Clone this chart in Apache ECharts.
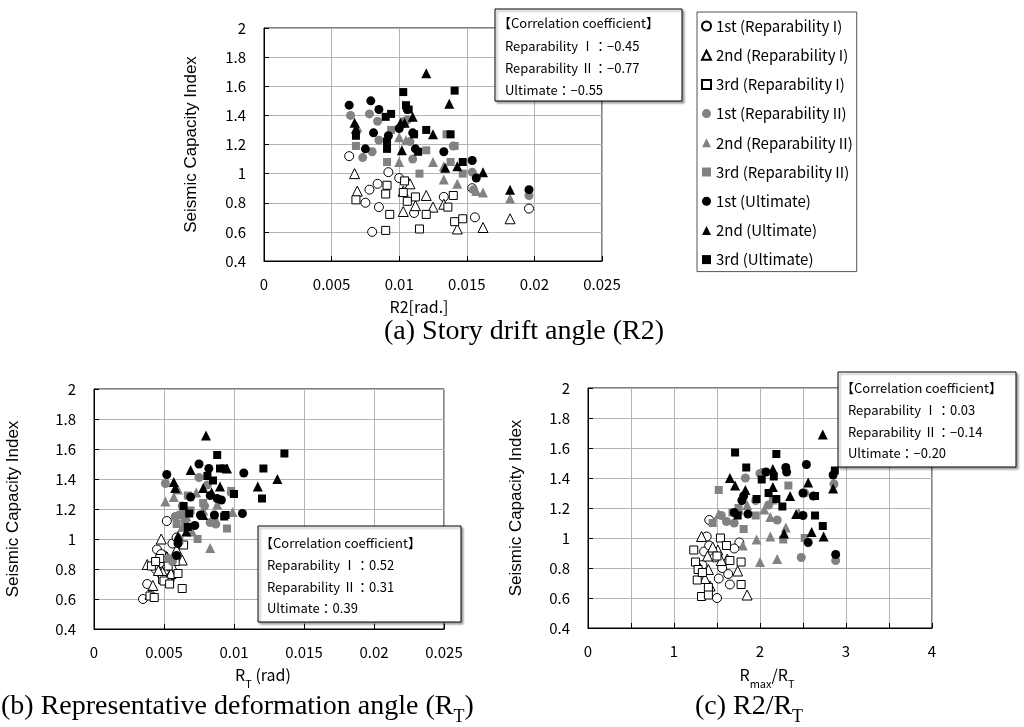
<!DOCTYPE html>
<html><head><meta charset="utf-8">
<script src="https://cdn.jsdelivr.net/npm/echarts@6/dist/echarts.min.js"></script>
<style>html,body{margin:0;padding:0;background:#fff}#c{width:1024px;height:727px}</style>
</head><body><div id="c"></div>
<script>
const seriesNames = ['1st (Reparability I)','2nd (Reparability I)','3rd (Reparability I)','1st (Reparability II)','2nd (Reparability II)','3rd (Reparability II)','1st (Ultimate)','2nd (Ultimate)','3rd (Ultimate)'];
const xTicksA = [0,0.005,0.01,0.015,0.02,0.025];
const xTicksC = [0,1,2,3,4];
const yTicks = [0.4,0.6,0.8,1,1.2,1.4,1.6,1.8,2];
const corrA = ['−0.45','−0.77','−0.55'];
const corrB = ['0.52','0.31','0.39'];
const corrC = ['0.03','−0.14','−0.20'];

// (a) R2
const r2_r1_1 = [[0.0063,1.12],[0.0092,1.01],[0.0100,0.97],[0.0084,0.93],[0.0078,0.89],[0.0075,0.80],[0.0085,0.77],[0.0111,0.73],[0.0080,0.60],[0.0133,0.84],[0.0154,0.90],[0.0196,0.76],[0.0156,0.70]];
const r2_r1_2 = [[0.0067,1.00],[0.0069,0.88],[0.0103,0.88],[0.0108,0.93],[0.0120,0.85],[0.0125,0.77],[0.0103,0.74],[0.0112,0.78],[0.0133,0.79],[0.0143,0.62],[0.0162,0.63],[0.0182,0.69]];
const r2_r1_3 = [[0.0091,0.92],[0.0090,0.86],[0.0068,0.82],[0.0104,0.95],[0.0103,0.87],[0.0112,0.84],[0.0106,0.81],[0.0093,0.72],[0.0120,0.72],[0.0090,0.61],[0.0115,0.62],[0.0136,0.77],[0.0140,0.85],[0.0141,0.67],[0.0147,0.69]];
const r2_r2_1 = [[0.0064,1.40],[0.0078,1.41],[0.0084,1.36],[0.0085,1.23],[0.0080,1.15],[0.0073,1.11],[0.0108,1.22],[0.0110,1.10],[0.0106,1.37],[0.0140,1.19],[0.0154,1.01],[0.0155,0.89],[0.0196,0.85]];
const r2_r2_2 = [[0.0100,1.25],[0.0105,1.23],[0.0100,1.08],[0.0125,1.08],[0.0133,1.05],[0.0133,0.96],[0.0143,0.93],[0.0157,0.88],[0.0162,0.87],[0.0182,0.83],[0.0069,1.32]];
const r2_r2_3 = [[0.0068,1.19],[0.0091,1.08],[0.0094,1.30],[0.0120,1.16],[0.0135,1.27],[0.0138,1.08],[0.0141,1.19],[0.0147,1.00],[0.0115,1.00],[0.0104,1.36]];
const r2_u_1 = [[0.0063,1.47],[0.0079,1.50],[0.0085,1.44],[0.0106,1.44],[0.0081,1.28],[0.0092,1.26],[0.0100,1.31],[0.0075,1.17],[0.0112,1.17],[0.0133,1.15],[0.0154,1.09],[0.0157,0.97],[0.0196,0.89],[0.0110,1.28]];
const r2_u_2 = [[0.0120,1.69],[0.0137,1.48],[0.0067,1.35],[0.0068,1.31],[0.0101,1.35],[0.0104,1.35],[0.0110,1.39],[0.0125,1.27],[0.0102,1.16],[0.0134,1.04],[0.0143,1.05],[0.0162,1.01],[0.0182,0.89]];
const r2_u_3 = [[0.0103,1.56],[0.0141,1.57],[0.0105,1.47],[0.0107,1.44],[0.0094,1.41],[0.0090,1.39],[0.0068,1.26],[0.0091,1.22],[0.0091,1.17],[0.0111,1.27],[0.0120,1.30],[0.0114,1.15],[0.0138,1.27],[0.0147,1.08]];

// (b) RT
const rt_r1_1 = [[0.0052,1.12],[0.0045,0.93],[0.0056,0.97],[0.0050,0.89],[0.0047,0.84],[0.0044,0.80],[0.0051,0.77],[0.0054,0.73],[0.0038,0.70],[0.0035,0.60],[0.0059,1.01],[0.0048,0.90],[0.0056,0.76]];
const rt_r1_2 = [[0.0048,1.00],[0.0038,0.83],[0.0049,0.78],[0.0042,0.69],[0.0056,0.82],[0.0063,0.86],[0.0052,0.88],[0.0046,0.79],[0.0040,0.63],[0.0053,0.74],[0.0059,0.93],[0.0055,0.77]];
const rt_r1_3 = [[0.0041,0.82],[0.0047,0.87],[0.0049,0.73],[0.0040,0.62],[0.0063,0.67],[0.0060,0.77],[0.0053,0.82],[0.0064,0.96],[0.0057,0.86],[0.0043,0.61],[0.0050,0.72],[0.0058,0.85],[0.0054,0.70],[0.0044,0.85]];
const rt_r2_1 = [[0.0051,1.37],[0.0058,1.15],[0.0083,1.11],[0.0056,0.85],[0.0053,0.87],[0.0061,1.16],[0.0075,1.41],[0.0081,1.36],[0.0079,1.22],[0.0087,1.10],[0.0065,1.12],[0.0063,1.22],[0.0098,1.31]];
const rt_r2_2 = [[0.0051,1.25],[0.0057,1.28],[0.0099,1.18],[0.0083,0.94],[0.0060,1.33],[0.0066,1.15],[0.0088,1.23],[0.0078,1.19],[0.0070,1.05],[0.0063,1.08],[0.0073,1.31]];
const rt_r2_3 = [[0.0067,1.29],[0.0098,1.32],[0.0086,1.15],[0.0095,1.07],[0.0074,1.00],[0.0064,1.17],[0.0059,1.10],[0.0078,1.24],[0.0069,1.19],[0.0061,0.99]];
const rt_u_1 = [[0.0052,1.43],[0.0075,1.50],[0.0082,1.47],[0.0107,1.44],[0.0069,1.28],[0.0088,1.27],[0.0091,1.26],[0.0106,1.17],[0.0072,1.09],[0.0059,0.89],[0.0060,0.97],[0.0076,1.16],[0.0086,1.16],[0.0083,1.29]];
const rt_u_2 = [[0.0080,1.69],[0.0069,1.46],[0.0095,1.47],[0.0131,1.40],[0.0057,1.38],[0.0058,1.34],[0.0078,1.34],[0.0090,1.35],[0.0117,1.35],[0.0078,1.16],[0.0060,1.02],[0.0066,1.05],[0.0084,1.31]];
const rt_u_3 = [[0.0088,1.56],[0.0121,1.47],[0.0090,1.47],[0.0093,1.47],[0.0081,1.42],[0.0085,1.39],[0.0100,1.30],[0.0120,1.27],[0.0064,1.22],[0.0068,1.17],[0.0093,1.15],[0.0067,1.08],[0.0094,1.16],[0.0136,1.57]];

// (c) Rmax/RT
const rr_r1_1 = [[1.41,1.12],[1.38,1.01],[1.76,0.97],[1.35,0.91],[1.50,0.60],[1.63,0.76],[1.65,0.69],[1.41,0.95],[1.47,0.87],[1.33,0.82],[1.56,0.80],[1.52,0.73],[1.70,0.93]];
const rr_r1_2 = [[1.32,1.01],[1.51,0.92],[1.74,0.78],[1.85,0.62],[1.40,0.79],[1.36,0.73],[1.45,0.94],[1.62,0.86],[1.30,0.80],[1.55,0.85],[1.42,0.68],[1.39,0.88]];
const rr_r1_3 = [[1.54,1.00],[1.23,0.92],[1.25,0.84],[1.28,0.79],[1.27,0.72],[1.40,0.67],[1.32,0.61],[1.78,0.69],[1.78,0.84],[1.65,0.85],[1.61,0.95],[1.50,0.88],[1.40,0.62],[1.33,0.77]];
const rr_r2_1 = [[1.83,1.40],[1.61,1.11],[2.86,1.36],[2.48,0.87],[2.88,0.85],[1.70,1.10],[2.10,1.22],[1.95,1.25],[2.20,1.12],[1.55,1.15],[2.52,1.30],[2.00,1.43],[1.75,1.17]];
const rr_r2_2 = [[1.52,1.16],[2.12,1.14],[1.80,0.95],[2.12,1.01],[2.00,0.84],[2.20,0.86],[1.96,0.99],[2.30,1.07],[2.05,1.19],[1.85,1.22],[2.45,1.17]];
const rr_r2_3 = [[1.52,1.32],[2.05,1.44],[2.33,1.35],[1.81,1.06],[2.52,1.00],[2.27,0.99],[1.45,1.10],[1.68,1.17],[1.95,1.15],[2.15,1.25],[1.75,1.20]];
const rr_u_1 = [[2.07,1.44],[2.30,1.47],[2.31,1.44],[2.54,1.49],[1.81,1.28],[1.79,1.25],[2.50,1.30],[1.86,1.16],[2.50,1.15],[2.56,0.97],[2.88,0.89],[2.62,1.28],[2.85,1.42],[1.70,1.17]];
const rr_u_2 = [[2.73,1.69],[1.65,1.40],[1.71,1.35],[2.15,1.46],[2.15,1.34],[1.83,1.32],[2.56,1.37],[2.35,1.28],[2.28,1.03],[2.42,1.16],[2.60,1.04],[2.85,1.33],[2.74,1.01]];
const rr_u_3 = [[1.71,1.57],[2.19,1.56],[1.84,1.47],[2.02,1.39],[2.16,1.41],[1.96,1.26],[2.19,1.26],[2.64,1.28],[2.26,1.21],[1.74,1.15],[2.64,1.15],[2.73,1.08],[2.87,1.45],[2.10,1.30]];

const dataA = [r2_r1_1,r2_r1_2,r2_r1_3,r2_r2_1,r2_r2_2,r2_r2_3,r2_u_1,r2_u_2,r2_u_3];
const dataB = [rt_r1_1,rt_r1_2,rt_r1_3,rt_r2_1,rt_r2_2,rt_r2_3,rt_u_1,rt_u_2,rt_u_3];
const dataC = [rr_r1_1,rr_r1_2,rr_r1_3,rr_r2_1,rr_r2_2,rr_r2_3,rr_u_1,rr_u_2,rr_u_3];

const GRAY = '#828282';
const markStyles = [
  {symbol:'circle', size:9, fill:'#fff'},
  {symbol:'triangle', size:10, fill:'#fff'},
  {symbol:'rect', size:8, fill:'#fff'},
  {symbol:'circle', size:9, fill:GRAY},
  {symbol:'triangle', size:10, fill:GRAY},
  {symbol:'rect', size:8, fill:GRAY},
  {symbol:'circle', size:9, fill:'#000'},
  {symbol:'triangle', size:10, fill:'#000'},
  {symbol:'rect', size:8, fill:'#000'}
];

const CJK = "'Noto Sans CJK JP','Noto Sans',sans-serif";
const SERIF = "'Liberation Serif','Times New Roman',serif";
const series = [];
[dataA, dataB, dataC].forEach((set, g) => {
  set.forEach((d, i) => {
    const st = markStyles[i];
    const hollow = st.fill === '#fff';
    series.push({
      type: 'scatter', name: seriesNames[i], xAxisIndex: g, yAxisIndex: g,
      data: d, symbol: st.symbol, symbolSize: st.size,
      itemStyle: {color: st.fill, borderColor: hollow ? '#000' : st.fill, borderWidth: hollow ? 1 : 0, opacity: 1},
      emphasis: {disabled: true}
    });
  });
});

function yAx(g, gap) {
  return {
    gridIndex: g, type: 'value', min: yTicks[0], max: yTicks[yTicks.length-1], interval: 0.2,
    name: 'Seismic Capacity Index', nameLocation: 'middle', nameRotate: 90, nameGap: gap,
    nameTextStyle: {fontFamily: "'Liberation Sans',Arial,sans-serif", fontSize: 17, color: '#000'},
    axisLine: {show: true, lineStyle: {color: '#000'}},
    axisTick: {show: true, inside: true, length: 5, lineStyle: {color: '#000'}},
    axisLabel: {fontFamily: CJK, fontSize: 15, color: '#000', margin: 18},
    splitLine: {show: true, lineStyle: {color: '#b4b4b4', width: 1}}
  };
}
function xAx(g, max, interval, fmt) {
  return {
    gridIndex: g, type: 'value', min: 0, max: max, interval: interval,
    axisLine: {show: true, onZero: false, lineStyle: {color: '#000'}},
    axisTick: {show: true, inside: true, length: 5, lineStyle: {color: '#000'}},
    axisLabel: {fontFamily: CJK, fontSize: 15, color: '#000', margin: 16, formatter: fmt},
    splitLine: {show: true, lineStyle: {color: '#b4b4b4', width: 1}}
  };
}

function corrBox(x, y, w, h, lineX, ys, vals) {
  const ts = {fontFamily: CJK, fontSize: 13, fill: '#000', verticalAlign: 'middle', align: 'left'};
  return [
    {type: 'rect', shape: {x: x, y: y, width: w, height: h}, style: {fill: '#fff', stroke: '#000', lineWidth: 1, shadowBlur: 2, shadowOffsetX: 2, shadowOffsetY: 2, shadowColor: 'rgba(0,0,0,0.35)'}, z: 100},
    {type: 'text', x: lineX - 7, y: ys[0], style: Object.assign({text: '【Correlation coefficient】'}, ts), z: 101},
    {type: 'text', x: lineX, y: ys[1], style: Object.assign({text: 'Reparability Ⅰ：' + vals[0]}, ts), z: 101},
    {type: 'text', x: lineX, y: ys[2], style: Object.assign({text: 'Reparability Ⅱ：' + vals[1]}, ts), z: 101},
    {type: 'text', x: lineX, y: ys[3], style: Object.assign({text: 'Ultimate：' + vals[2]}, ts), z: 101}
  ];
}

const subRich = {
  n: {fontFamily: CJK, fontSize: 16, color: '#000', lineHeight: 22},
  s: {fontFamily: CJK, fontSize: 11, color: '#000', verticalAlign: 'bottom', lineHeight: 22, padding: [0,0,-3,0]}
};
const serifRich = {
  n: {fontFamily: SERIF, fontSize: 28, color: '#000', lineHeight: 34},
  s: {fontFamily: SERIF, fontSize: 18, color: '#000', verticalAlign: 'bottom', lineHeight: 34, padding: [0,0,-2,0]}
};

const graphic = [].concat(
  corrBox(495, 9, 187, 92, 505, [23, 46, 68, 90], corrA),
  corrBox(258, 526, 203, 96, 267, [543, 565, 587, 608], corrB),
  corrBox(838, 372, 178, 95, 848, [388, 410, 432, 453], corrC),
  [
    {type: 'text', x: 419, y: 307, style: {text: 'R2[rad.]', fontFamily: CJK, fontSize: 16, fill: '#000', align: 'center', verticalAlign: 'middle'}},
    {type: 'text', x: 263, y: 675, style: {text: '{n|R}{s|T}{n| (rad)}', rich: subRich, align: 'center', verticalAlign: 'middle'}},
    {type: 'text', x: 767, y: 675, style: {text: '{n|R}{s|max}{n|/R}{s|T}', rich: subRich, align: 'center', verticalAlign: 'middle'}},
    {type: 'text', x: 524, y: 332, style: {text: '(a) Story drift angle (R2)', fontFamily: SERIF, fontSize: 28, fill: '#000', align: 'center', verticalAlign: 'middle'}},
    {type: 'text', x: 1, y: 707, style: {text: '{n|(b) Representative deformation angle (R}{s|T}{n|)}', rich: serifRich, align: 'left', verticalAlign: 'middle'}},
    {type: 'text', x: 749, y: 707, style: {text: '{n|(c) R2/R}{s|T}', rich: serifRich, align: 'center', verticalAlign: 'middle'}}
  ]
);

const chart = echarts.init(document.getElementById('c'), null, {renderer: 'canvas'});
chart.setOption({
  animation: false,
  backgroundColor: '#fff',
  grid: [
    {left: 264, top: 28, width: 338, height: 233, show: true, borderColor: '#000', borderWidth: 1, backgroundColor: 'transparent', containLabel: false},
    {left: 94, top: 389, width: 350, height: 240, show: true, borderColor: '#000', borderWidth: 1, backgroundColor: 'transparent', containLabel: false},
    {left: 588, top: 388, width: 344, height: 240, show: true, borderColor: '#000', borderWidth: 1, backgroundColor: 'transparent', containLabel: false}
  ],
  xAxis: [
    xAx(0, xTicksA[xTicksA.length-1], 0.005),
    xAx(1, xTicksA[xTicksA.length-1], 0.005),
    xAx(2, xTicksC[xTicksC.length-1], 0.5, v => (xTicksC.indexOf(v) >= 0 ? String(v) : ''))
  ],
  yAxis: [yAx(0, 64), yAx(1, 72), yAx(2, 63)],
  legend: {
    data: seriesNames, orient: 'vertical', left: 697, top: 12,
    itemWidth: 9, itemHeight: 9, itemGap: 13.2,
    padding: [6, 4, 4, 4],
    borderColor: '#555', borderWidth: 1, backgroundColor: '#fff',
    textStyle: {fontFamily: CJK, fontSize: 15, color: '#000', lineHeight: 16},
    selectedMode: false
  },
  series: series,
  graphic: graphic
});
</script></body></html>
